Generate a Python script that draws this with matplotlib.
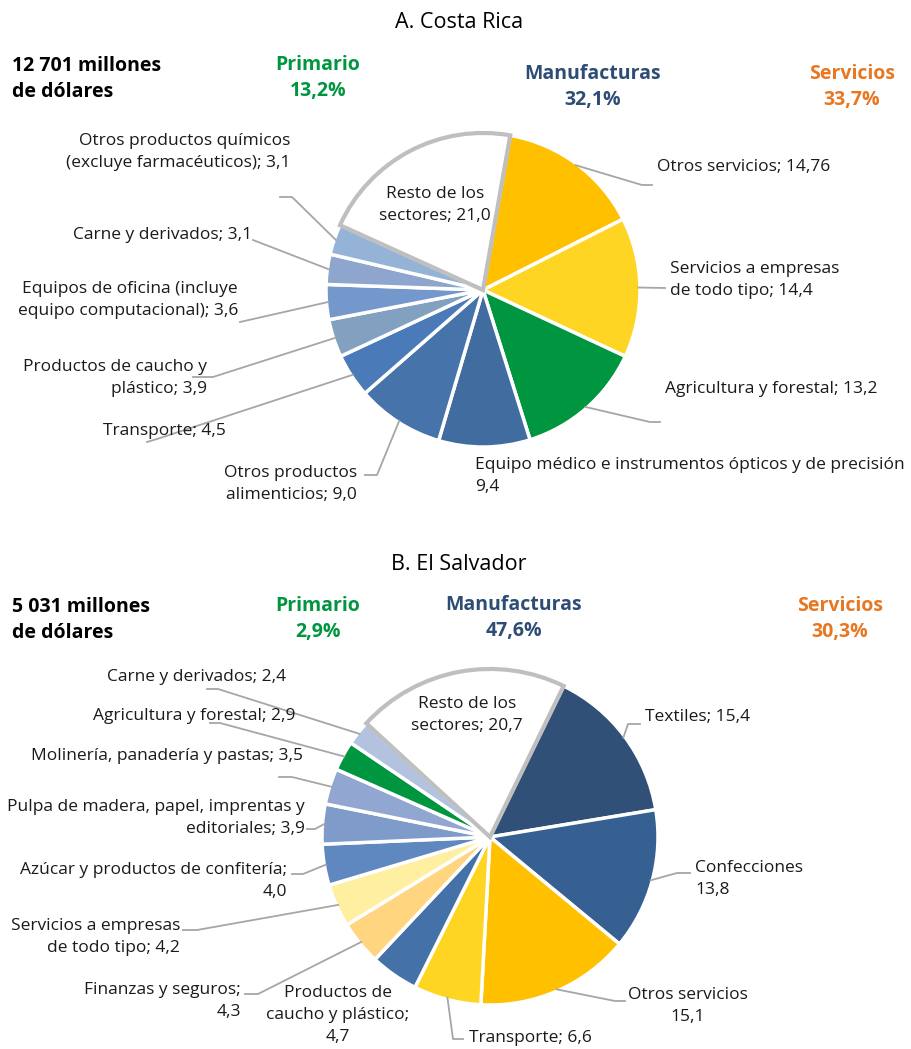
import numpy as np
import matplotlib.pyplot as plt

plt.rcParams['font.family'] = ['Open Sans', 'DejaVu Sans']

# ---- data: Costa Rica
cr_labels = ["Otros servicios; 14,76", "Servicios a empresas\nde todo tipo; 14,4",
             "Agricultura y forestal; 13,2",
             "Equipo médico e instrumentos ópticos y de precisión\n9,4",
             "Otros productos\nalimenticios; 9,0", "Transporte; 4,5",
             "Productos de caucho y\nplástico; 3,9",
             "Equipos de oficina (incluye\nequipo computacional); 3,6",
             "Carne y derivados; 3,1",
             "Otros productos químicos\n(excluye farmacéuticos); 3,1",
             "Resto de los\nsectores; 21,0"]
cr_values = [14.76, 14.4, 13.2, 9.4, 9.0, 4.5, 3.9, 3.6, 3.1, 3.1, 21.0]
cr_colors = ["#FFC000", "#FFD524", "#00953F", "#416C9F", "#4573AA", "#4A7AB7",
             "#82A0C0", "#7598CC", "#8EA6CE", "#95B3D7", "white"]
cr_head = [("Primario", "13,2%"), ("Manufacturas", "32,1%"), ("Servicios", "33,7%")]
cr_total = "12 701 millones\nde dólares"

# ---- data: El Salvador
sv_labels = ["Textiles; 15,4", "Confecciones\n13,8", "Otros servicios\n15,1",
             "Transporte; 6,6", "Productos de\ncaucho y plástico;\n4,7",
             "Finanzas y seguros;\n4,3", "Servicios a empresas\nde todo tipo; 4,2",
             "Azúcar y productos de confitería;\n4,0",
             "Pulpa de madera, papel, imprentas y\neditoriales; 3,9",
             "Molinería, panadería y pastas; 3,5", "Agricultura y forestal; 2,9",
             "Carne y derivados; 2,4", "Resto de los\nsectores; 20,7"]
sv_values = [15.4, 13.8, 15.1, 6.6, 4.7, 4.3, 4.2, 4.0, 3.9, 3.5, 2.9, 2.4, 20.7]
sv_colors = ["#305078", "#366092", "#FFC000", "#FFD524", "#4472A8", "#FFD57F",
             "#FFEFA0", "#5F87C0", "#7F9BC9", "#91A6D0", "#00953F", "#B3C3DF", "white"]
sv_head = [("Primario", "2,9%"), ("Manufacturas", "47,6%"), ("Servicios", "30,3%")]
sv_total = "5 031 millones\nde dólares"

head_colors = ["#00953F", "#2E4D74", "#E87722"]
LINE = "#A6A6A6"

# layout of each label: (text x, text y, ha, elbow points...) in pixel coords
cr_layout = [
    (657, 167, 'left', [(642, 185), (652, 185)]),
    (670, 280, 'left', [(665, 288)]),
    (665, 389, 'left', [(650, 422), (660, 422)]),
    (475, 476, 'left', None),
    (357, 484, 'right', [(377, 475), (365, 475)]),
    (226, 431, 'right', [(157, 439), (147, 442)]),
    (207, 378, 'right', [(213, 377), (193, 377)]),
    (238, 300, 'right', [(240, 322)]),
    (252, 235, 'right', [(253, 240)]),
    (290, 152, 'right', [(292, 197), (280, 197)]),
    (435, 205, 'center', None),
]
sv_layout = [
    (645, 717, 'left', [(628, 724), (640, 724)]),
    (695, 879, 'left', [(677, 873), (690, 873)]),
    (688, 1006, 'center', [(615, 1001), (625, 1001)]),
    (469, 1038, 'left', [(453, 1039), (463, 1039)]),
    (338, 1015, 'center', None),
    (241, 1001, 'right', [(258, 994), (245, 994)]),
    (180, 937, 'right', [(197, 930), (183, 930)]),
    (287, 881, 'right', [(303, 874), (292, 874)]),
    (305, 818, 'right', [(315, 829), (307, 829)]),
    (303, 756, 'right', [(292, 777), (279, 777)]),
    (295, 716, 'right', [(220, 723), (210, 723)]),
    (286, 677, 'right', [(218, 689), (207, 689)]),
    (467, 715, 'center', None),
]

fig = plt.figure(figsize=(9.11, 10.49), dpi=100)
ax = fig.add_axes([0, 0, 1, 1])


def draw_pie(values, colors, labels, layout, center, radius, start):
    explode = [0] * (len(values) - 1) + [0.025]
    wedges, _ = ax.pie(values, colors=colors, center=center, radius=radius,
                       startangle=-start, counterclock=True, explode=explode,
                       wedgeprops=dict(edgecolor='white', linewidth=2.5))
    wedges[-1].set_edgecolor('#BFBFBF')
    wedges[-1].set_linewidth(3)
    wedges[-1].set_zorder(3)
    for w, lab, (tx, ty, ha, pts) in zip(wedges, labels, layout):
        ax.text(tx, ty, lab, ha=ha, va='center', fontsize=12.5,
                color='#1A1A1A', linespacing=1.5, zorder=5)
        if pts:
            mid = np.deg2rad((w.theta1 + w.theta2) / 2)
            sx = center[0] + radius * 0.99 * np.cos(mid)
            sy = center[1] + radius * 0.99 * np.sin(mid)
            xs = [sx] + [p[0] for p in pts]
            ys = [sy] + [p[1] for p in pts]
            ax.plot(xs, ys, color=LINE, lw=1.3, zorder=4)


def draw_header(title, ty, total, heads, hx, hy):
    ax.text(459, ty, title, ha='center', va='center', fontsize=15.5, color='black')
    ax.text(12, hy[0], total, ha='left', va='center', fontsize=14,
            fontweight='bold', linespacing=1.45)
    for (name, pct), col, x, y in zip(heads, head_colors, hx, hy[1:]):
        ax.text(x, y, name + "\n" + pct, ha='center', va='center', fontsize=14,
                fontweight='bold', color=col, linespacing=1.45)


draw_header("A. Costa Rica", 22, cr_total, cr_head, [318, 593, 852], [79, 78, 87, 87])
draw_header("B. El Salvador", 564, sv_total, sv_head, [318, 514, 840], [620, 619, 618, 619])

draw_pie(cr_values, cr_colors, cr_labels, cr_layout, (483, 290), 157, 80)
draw_pie(sv_values, sv_colors, sv_labels, sv_layout, (490, 837), 168, 64)

# pie() resets the view, so fix limits afterwards
ax.set_xlim(0, 911)
ax.set_ylim(1049, 0)
ax.set_aspect('equal')
ax.axis('off')

fig.savefig("out.png", dpi=100)
